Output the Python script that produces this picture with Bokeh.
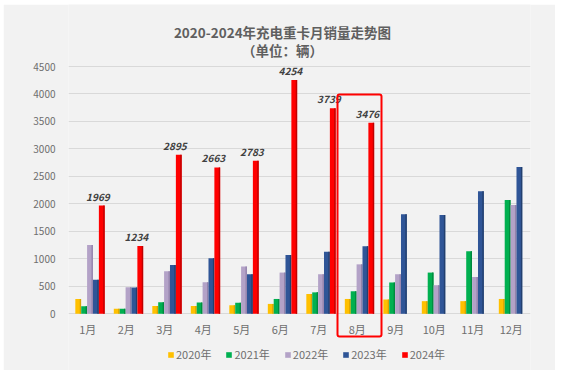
from bokeh.plotting import figure
from bokeh.models import (ColumnDataSource, FactorRange, FixedTicker, Label,
                          BoxAnnotation, Spacer, Legend, LegendItem)
from bokeh.layouts import column, row
from bokeh.transform import dodge
from bokeh.core.properties import value
from bokeh.embed import file_html
from bokeh.resources import INLINE

months = ["1月", "2月", "3月", "4月", "5月", "6月", "7月", "8月", "9月", "10月", "11月", "12月"]
years = ["2020年", "2021年", "2022年", "2023年", "2024年"]
s2020 = [270, 90, 140, 140, 155, 180, 360, 270, 260, 230, 230, 270]
s2021 = [138, 90, 210, 205, 200, 270, 390, 410, 570, 750, 1140, 2070]
s2022 = [1250, 484, 775, 575, 860, 750, 720, 900, 720, 520, 670, 1980]
s2023 = [618, 480, 890, 1010, 720, 1070, 1130, 1230, 1810, 1800, 2230, 2670]
s2024 = [1969, 1234, 2895, 2663, 2783, 4254, 3739, 3476]
y_ticks = [0, 500, 1000, 1500, 2000, 2500, 3000, 3500, 4000, 4500]
colors = ["#FFC000", "#00B050", "#B3A2C7", "#2F5597", "#FF0000"]
sides = ["#D9A300", "#008A3E", "#9483AB", "#223F6E", "#C00000"]

FONT = "Noto Sans CJK SC"

# figure geometry (pixels within the figure)
W, H = 552, 366
BL, BR = 65, 25
Y0_PX, YTOP_PX = 309.3, 62.0        # pixel rows of value 0 and value 4500
YMAX = y_ticks[-1]
k = (Y0_PX - YTOP_PX) / YMAX          # pixels per unit
y_start = -(H - Y0_PX) / k
y_end = YMAX + YTOP_PX / k

p = figure(x_range=FactorRange(*months), y_range=(y_start, y_end),
           width=W, height=H, output_backend="svg", toolbar_location=None,
           x_axis_location=None, title=None,
           min_border_left=BL, min_border_right=BR, min_border_top=0, min_border_bottom=0)
p.background_fill_color = "#F2F2F2"
p.border_fill_color = "#F2F2F2"
p.outline_line_color = None

fw = W - BL - BR
def px_x(px):
    return (px - BL) / fw * len(months)
def px_y(py):
    return (Y0_PX - py) / k

series = [s2020, s2021, s2022, s2023, s2024]
pitch = 0.153
shift = 0.058
bw = 0.15
renderers = []
for i, (name, vals) in enumerate(zip(years, series)):
    src = ColumnDataSource(dict(month=months[:len(vals)], val=vals))
    off = (i - 2) * pitch + shift
    r = p.vbar(x=dodge("month", off, range=p.x_range), top="val", width=bw, source=src,
               fill_color=colors[i], line_color=None)
    p.vbar(x=dodge("month", off + bw / 2 - 0.018, range=p.x_range), top="val", width=0.036,
           source=src, fill_color=sides[i], line_color=None)
    renderers.append(r)

# data labels for 2024
lab_src = ColumnDataSource(dict(month=months[:len(s2024)], val=s2024,
                                txt=[str(v) for v in s2024]))
p.text(x=dodge("month", 2 * pitch + shift - 0.1, range=p.x_range), y="val", text="txt",
       source=lab_src, text_align="center", text_baseline="bottom", y_offset=-5,
       text_font=value(FONT), text_font_size="10px", text_font_style="bold italic",
       text_color="#404040")

# month labels (category axis)
m_src = ColumnDataSource(dict(month=months, y=[0] * len(months)))
p.text(x=dodge("month", 0.0, range=p.x_range), y="y", text="month", source=m_src,
       text_align="center", text_baseline="middle", y_offset=15,
       text_font=value(FONT), text_font_size="11px", text_color="#6E6E6E")

# value axis
p.yaxis.ticker = FixedTicker(ticks=y_ticks)
p.yaxis.axis_line_color = None
p.yaxis.major_tick_line_color = None
p.yaxis.minor_tick_line_color = None
p.yaxis.major_label_standoff = 7
p.yaxis.major_label_text_font = FONT
p.yaxis.major_label_text_font_size = "10px"
p.yaxis.major_label_text_color = "#6E6E6E"
p.xgrid.grid_line_color = None
p.ygrid.ticker = FixedTicker(ticks=y_ticks)
p.ygrid.grid_line_color = "#D9D9D9"
p.ygrid.grid_line_width = 1

# titles
p.add_layout(Label(x=px_x(279), y=px_y(27), text="2020-2024年充电重卡月销量走势图",
                   text_align="center", text_baseline="middle", text_font=FONT,
                   text_font_size="13.5px", text_font_style="bold", text_color="#5F5F5F"))
p.add_layout(Label(x=px_x(279), y=px_y(45), text="（单位：辆）", text_align="center",
                   text_baseline="middle", text_font=FONT, text_font_size="13.5px",
                   text_font_style="bold", text_color="#5F5F5F"))

# highlight box for August
p.add_layout(BoxAnnotation(left=px_x(334), right=px_x(378), bottom=px_y(332), top=px_y(90),
                           fill_color=None, fill_alpha=0, line_color="#FF0000",
                           line_width=2, line_alpha=1, border_radius=2))

legend = Legend(items=[LegendItem(label=y, renderers=[r]) for y, r in zip(years, renderers)],
                orientation="horizontal", location=(164 - BL, 8),
                glyph_width=7, glyph_height=7, label_standoff=2, spacing=14,
                label_text_font=FONT, label_text_font_size="11px", label_text_color="#6E6E6E",
                background_fill_alpha=0, border_line_alpha=0, padding=0, margin=0)
p.add_layout(legend, "center")

layout = column(Spacer(height=4), row(Spacer(width=3), p))
open("out.html", "w").write(file_html(layout, INLINE))
